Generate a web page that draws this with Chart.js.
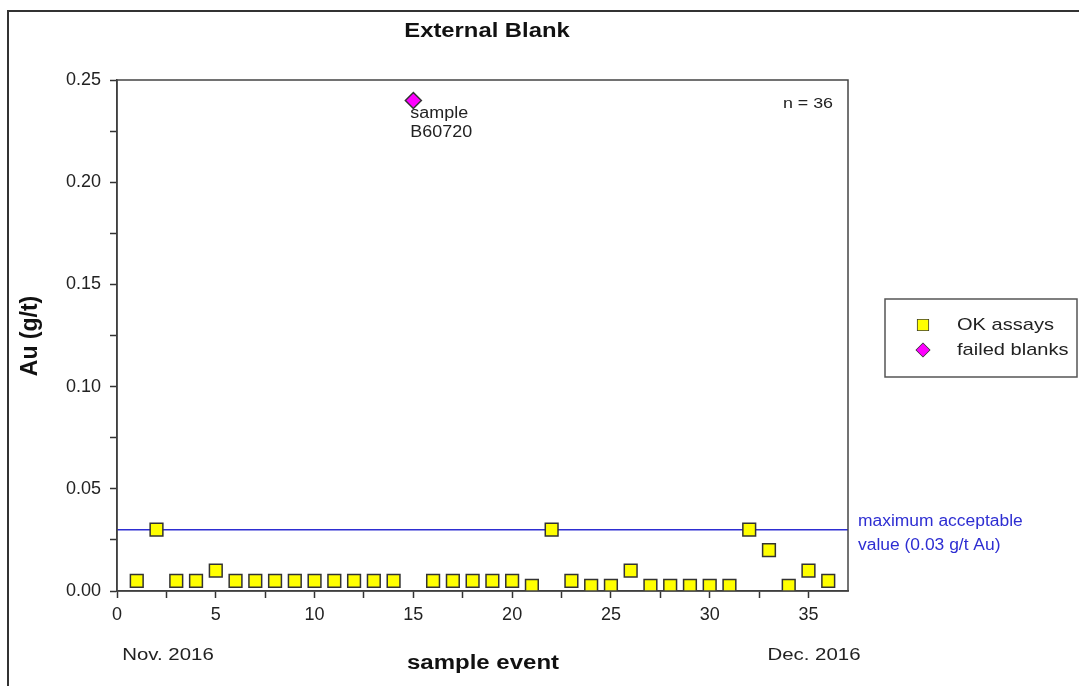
<!DOCTYPE html>
<html>
<head>
<meta charset="utf-8">
<title>External Blank</title>
<script src="https://cdn.jsdelivr.net/npm/chart.js@4.4.0/dist/chart.umd.min.js"></script>
<style>
    html, body { margin: 0; padding: 0; background: #fff; }
    #wrap { width: 1079px; height: 686px; position: relative; }
</style>
</head>
<body>
<div id="wrap"><canvas id="chart-blank" width="1079" height="686"></canvas></div>
<script>
// datos
var sampleEvents = [1, 2, 3, 4, 5, 6, 7, 8, 9, 10, 11, 12, 13, 14, 16, 17, 18, 19, 20,
    21, 22, 23, 24, 25, 26, 27, 28, 29, 30, 31, 32, 33, 34, 35, 36];
var okAssays = [0.005, 0.03, 0.005, 0.005, 0.01, 0.005, 0.005, 0.005, 0.005, 0.005, 0.005, 0.005, 0.005, 0.005,
    0.005, 0.005, 0.005, 0.005, 0.005,
    0.0025, 0.03, 0.005, 0.0025, 0.0025, 0.01, 0.0025, 0.0025, 0.0025, 0.0025, 0.0025, 0.03, 0.02, 0.0025, 0.01, 0.005];
var failedEvents = [15];
var failedValues = [0.24];
var failedLabels = [['sample', 'B60720']];
var maxAcceptable = 0.03;
var xTicks = [0, 5, 10, 15, 20, 25, 30, 35];
var yTicks = [0, 0.05, 0.10, 0.15, 0.20, 0.25];

var FONT = '"Liberation Sans", Arial, sans-serif';
var BLUE = '#2e2ed2';

function toPoints(xs, ys) {
    var pts = [];
    for (var i = 0; i < xs.length; i++) {
        pts.push({x: xs[i], y: ys[i]});
    }
    return pts;
}

// el original esta un poco estirado en horizontal
function wideText(ctx, text, x, y, align, sx) {
    ctx.save();
    ctx.translate(x, y);
    ctx.scale(sx, 1);
    ctx.textAlign = align;
    ctx.fillText(text, 0, 0);
    ctx.restore();
}

// textos, marco y leyenda dibujados a mano
var decorPlugin = {
    id: 'decor',
    afterDraw: function (chart) {
        var ctx = chart.ctx;
        var area = chart.chartArea;
        var xs = chart.scales.x;
        var ys = chart.scales.y;
        ctx.save();

        // marco exterior
        ctx.strokeStyle = '#333';
        ctx.lineWidth = 2;
        ctx.beginPath();
        ctx.moveTo(8, 686);
        ctx.lineTo(8, 11);
        ctx.lineTo(1079, 11);
        ctx.stroke();

        // caja del grafico
        ctx.lineWidth = 1.5;
        ctx.strokeStyle = '#444';
        ctx.strokeRect(area.left, area.top, area.right - area.left, area.bottom - area.top);

        ctx.fillStyle = '#111';
        ctx.textBaseline = 'middle';
        ctx.font = 'bold 20px ' + FONT;
        wideText(ctx, 'External Blank', 487, 31, 'center', 1.19);
        wideText(ctx, 'sample event', 483, 663, 'center', 1.2);

        ctx.save();
        ctx.translate(31, 336);
        ctx.rotate(-Math.PI / 2);
        ctx.font = 'bold 23px ' + FONT;
        ctx.textAlign = 'center';
        ctx.fillText('Au (g/t)', 0, 0);
        ctx.restore();

        ctx.fillStyle = '#222';
        ctx.font = '17px ' + FONT;
        wideText(ctx, 'Nov. 2016', 168, 655, 'center', 1.2);
        wideText(ctx, 'Dec. 2016', 814, 655, 'center', 1.2);

        ctx.font = '15px ' + FONT;
        wideText(ctx, 'n = ' + (sampleEvents.length + failedEvents.length), area.right - 15, 104, 'right', 1.19);

        // etiqueta de la muestra fallida
        ctx.font = '16px ' + FONT;
        for (var i = 0; i < failedEvents.length; i++) {
            var px = xs.getPixelForValue(failedEvents[i]);
            var py = ys.getPixelForValue(failedValues[i]);
            wideText(ctx, failedLabels[i][0], px - 3, py + 13, 'left', 1.12);
            wideText(ctx, failedLabels[i][1], px - 3, py + 32, 'left', 1.12);
        }

        // texto del limite
        var ly = ys.getPixelForValue(maxAcceptable);
        ctx.fillStyle = BLUE;
        wideText(ctx, 'maximum acceptable', area.right + 10, ly - 8, 'left', 1.09);
        wideText(ctx, 'value (0.03 g/t Au)', area.right + 10, ly + 16, 'left', 1.09);

        // leyenda
        ctx.strokeStyle = '#555';
        ctx.lineWidth = 1.5;
        ctx.strokeRect(885, 299, 192, 78);
        var ds = chart.data.datasets;
        var rows = [ds[0], ds[1]];
        for (var j = 0; j < rows.length; j++) {
            var yy = 325 + j * 25;
            ctx.fillStyle = rows[j].pointBackgroundColor;
            ctx.strokeStyle = rows[j].pointBorderColor;
            ctx.lineWidth = 1.5;
            Chart.helpers.drawPoint(ctx, {pointStyle: rows[j].pointStyle, radius: rows[j].pointRadius - 1.5, borderWidth: 1.5}, 923, yy);
            ctx.fill();
            ctx.fillStyle = '#222';
            ctx.font = '17px ' + FONT;
            wideText(ctx, rows[j].label, 957, yy, 'left', 1.18);
        }
        ctx.restore();
    }
};

function renderChart() {
    var ctx = document.getElementById('chart-blank');

    var chartBlank = new Chart(ctx, {
        type: 'scatter',
        data: {
            datasets: [{
                label: 'OK assays',
                data: toPoints(sampleEvents, okAssays),
                pointStyle: 'rect',
                pointRadius: 9,
                pointBackgroundColor: '#ffff00',
                pointBorderColor: '#333',
                pointBorderWidth: 1.5,
                order: 1
            }, {
                label: 'failed blanks',
                data: toPoints(failedEvents, failedValues),
                pointStyle: 'rectRot',
                pointRadius: 8,
                pointBackgroundColor: '#ff00ff',
                pointBorderColor: '#333',
                pointBorderWidth: 1.5,
                order: 1
            }, {
                label: 'maximum acceptable',
                data: [{x: 0, y: maxAcceptable}, {x: 37, y: maxAcceptable}],
                showLine: true,
                borderColor: BLUE,
                borderWidth: 1.5,
                pointRadius: 0,
                order: 2
            }]
        },
        options: {
            responsive: false,
            animation: false,
            layout: {padding: {top: 80, left: 8, right: 231, bottom: 0}},
            plugins: {
                legend: {display: false},
                tooltip: {enabled: false}
            },
            scales: {
                x: {
                    type: 'linear',
                    min: 0,
                    max: 37,
                    afterFit: function (scale) { scale.height = 95; },
                    afterBuildTicks: function (scale) {
                        var t = [];
                        for (var v = 0; v <= 35; v += 2.5) t.push({value: v});
                        scale.ticks = t;
                    },
                    grid: {drawOnChartArea: false, tickLength: 7, tickColor: '#333', tickWidth: 1.5},
                    border: {color: '#333', width: 1.5},
                    ticks: {
                        padding: 6,
                        color: '#222',
                        font: {family: FONT, size: 18},
                        autoSkip: false,
                        maxRotation: 0,
                        callback: function (v) { return xTicks.indexOf(v) >= 0 ? String(v) : ''; }
                    }
                },
                y: {
                    min: 0,
                    max: 0.25,
                    afterFit: function (scale) { scale.width = 109; },
                    afterBuildTicks: function (scale) {
                        var t = [];
                        for (var k = 0; k <= 10; k++) t.push({value: k * 0.025});
                        scale.ticks = t;
                    },
                    grid: {drawOnChartArea: false, tickLength: 7, tickColor: '#333', tickWidth: 1.5},
                    border: {color: '#333', width: 1.5},
                    ticks: {
                        padding: 9,
                        color: '#222',
                        font: {family: FONT, size: 18},
                        autoSkip: false,
                        callback: function (v) {
                            for (var i = 0; i < yTicks.length; i++) {
                                if (Math.abs(yTicks[i] - v) < 1e-9) return yTicks[i].toFixed(2);
                            }
                            return '';
                        }
                    }
                }
            }
        },
        plugins: [decorPlugin]
    });
    return chartBlank;
}

renderChart();
</script>
</body>
</html>
